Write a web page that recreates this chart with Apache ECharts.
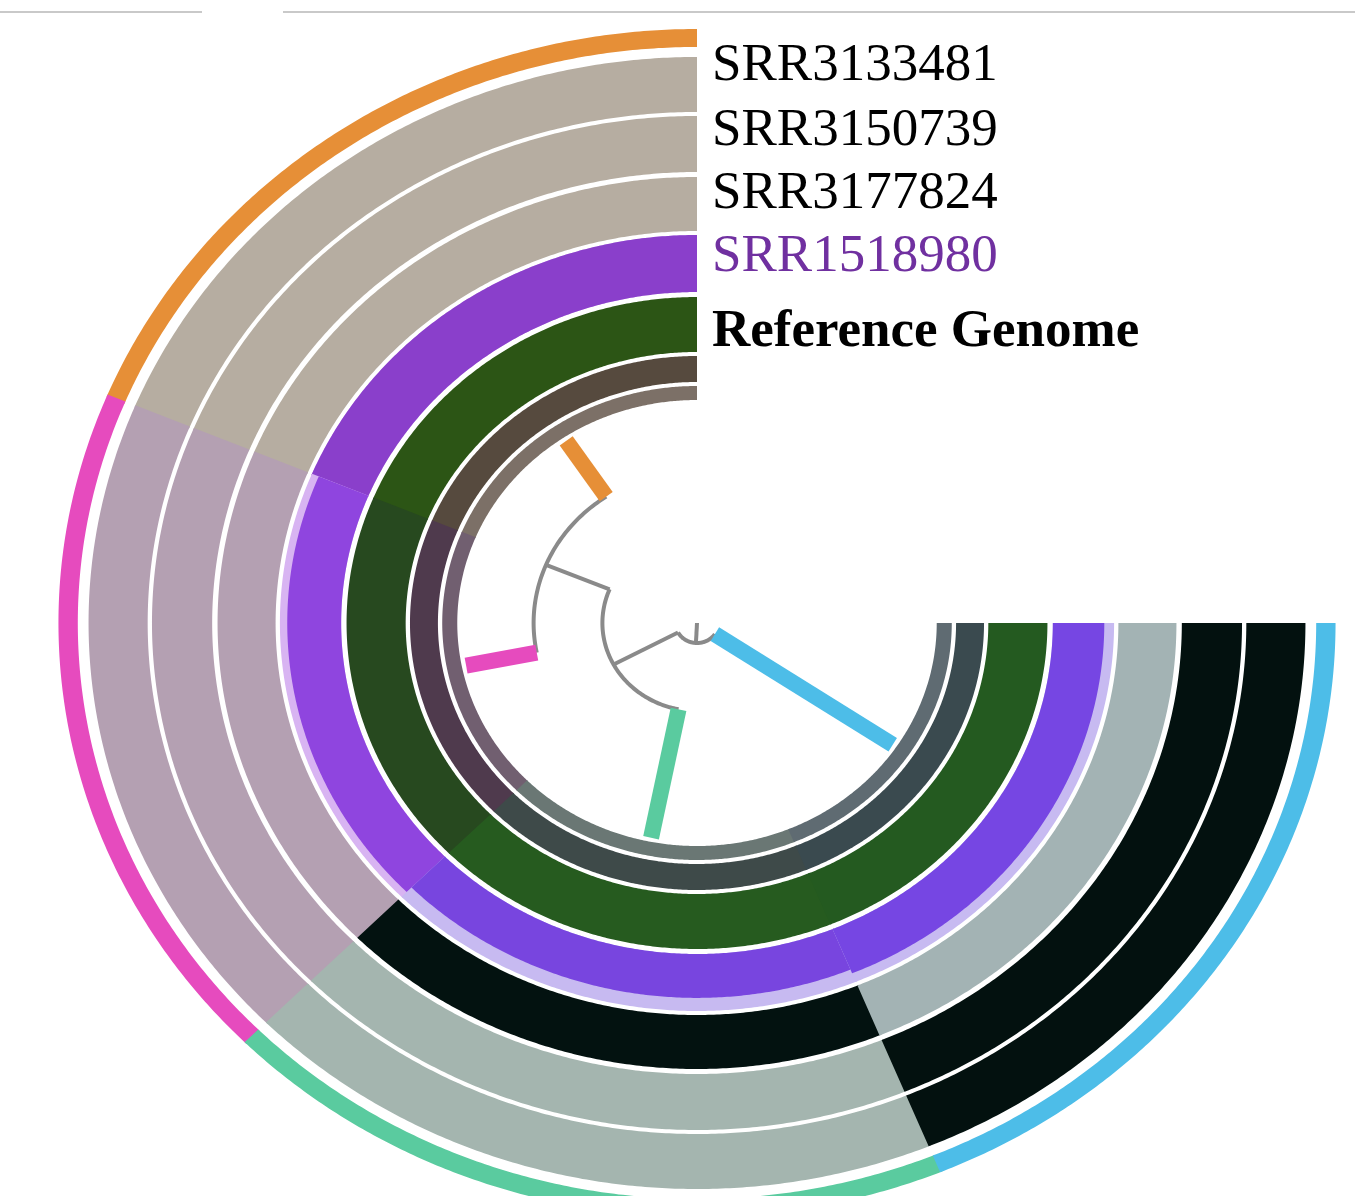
<!DOCTYPE html>
<html>
<head>
<meta charset="utf-8">
<script src="https://cdn.jsdelivr.net/npm/echarts@6/dist/echarts.min.js"></script>
<style>
  html, body { margin: 0; padding: 0; background: #ffffff; }
  #chart { width: 1355px; height: 1196px; }
</style>
</head>
<body>
<div id="chart"></div>
<script>
// Four clade sectors sweep counter-clockwise from 12 o'clock round to 3 o'clock
const cladeColors = ['#E68F37', '#E64BBE', '#5ACB9F', '#4DBDE8'];
const sweepStart = 90;
const sweepEnd = 360;

// Concentric tracks, innermost first (radius units)
const trackNames = ['', '', 'Reference Genome', 'SRR1518980', 'SRR3177824', 'SRR3150739', 'SRR3133481', 'Clade'];
const trackInner = [223, 241, 271, 331, 392, 451, 511, 576];
const trackOuter = [237, 267, 326, 388, 446, 507, 566, 594];

// Fill colour of every track in each clade sector
const trackColors = [
  ['#7C7067', '#715F70', '#6A7774', '#5F6B72'],
  ['#564A3E', '#4F3A4D', '#3E4A49', '#3A4A4F'],
  ['#2C5515', '#27491F', '#265B1F', '#245A20'],
  ['#8A3FCB', '#8F45DF', '#7845DF', '#7646E3'],
  ['#B6ADA1', '#B4A0B2', '#031210', '#A3B3B4'],
  ['#B6ADA1', '#B4A0B2', '#A4B5AF', '#03110F'],
  ['#B6ADA1', '#B4A0B2', '#A4B5AF', '#03110F'],
  cladeColors
];

// SRR1518980 coverage per clade; the uncovered remainder shows as a pale band
const coverageTrack = 3;
const coverage = [1.0, 0.88, 0.77, 0.84];
const coveragePale = ['#D4B2F0', '#D8B4F2', '#C7BAF1', '#C7BAF1'];

// Dendrogram: parent index and radial depth of every node; tips map to clades
const treeParent = [-1, 0, 1, 2, 2, 1, 0];
const treeDepth = [20, 88, 152, 219, 219, 219, 219];
const tipClade = [-1, -1, -1, 0, 1, 2, 3];

// Track legend text
const legendLabels = ['SRR3133481', 'SRR3150739', 'SRR3177824', 'SRR1518980', 'Reference Genome'];
const legendColors = ['#000000', '#000000', '#000000', '#7030A0', '#000000'];
const legendWeights = ['normal', 'normal', 'normal', 'normal', 'bold'];

const sectorSpan = (sweepEnd - sweepStart) / cladeColors.length;
const rad = Math.PI / 180;
function polarToXY(r, deg) {
  return [r * Math.cos(deg * rad), r * Math.sin(deg * rad)];
}

// Ring segments
const segData = [];
for (let t = 0; t < trackInner.length; t++) {
  for (let c = 0; c < cladeColors.length; c++) {
    const a0 = sweepStart + c * sectorSpan;
    const a1 = a0 + sectorSpan;
    if (t === coverageTrack) {
      segData.push({ value: [trackInner[t], trackOuter[t], a0, a1], itemStyle: { color: coveragePale[c] } });
      const rTop = trackInner[t] + coverage[c] * (trackOuter[t] - trackInner[t]);
      segData.push({ value: [trackInner[t], rTop, a0, a1], itemStyle: { color: trackColors[t][c] } });
    } else {
      segData.push({ value: [trackInner[t], trackOuter[t], a0, a1], itemStyle: { color: trackColors[t][c] } });
    }
  }
}

// Node angles: tips sit mid-sector, inner nodes at the mean of their children
const nodeAngle = treeParent.map(() => 0);
const children = treeParent.map(() => []);
treeParent.forEach((p, i) => { if (p >= 0) children[p].push(i); });
for (let i = treeParent.length - 1; i >= 0; i--) {
  if (tipClade[i] >= 0) {
    nodeAngle[i] = sweepStart + (tipClade[i] + 0.5) * sectorSpan;
  } else {
    const kids = children[i];
    nodeAngle[i] = kids.reduce((s, k) => s + nodeAngle[k], 0) / kids.length;
  }
}

const branchData = [];
const arcData = [];
treeParent.forEach((p, i) => {
  const from = p >= 0 ? treeDepth[p] : 0;
  const isTip = tipClade[i] >= 0;
  branchData.push({
    value: [nodeAngle[i], from, treeDepth[i], isTip ? 1 : 0],
    itemStyle: { color: isTip ? cladeColors[tipClade[i]] : '#8A8A8A' }
  });
  if (children[i].length) {
    const angs = children[i].map(k => nodeAngle[k]);
    arcData.push({ value: [treeDepth[i], Math.min(...angs), Math.max(...angs)] });
  }
});

function ringItem(params, api) {
  const r0 = api.value(0), r1 = api.value(1);
  let a0 = api.value(2), a1 = api.value(3);
  if (a0 > sweepStart) a0 -= 0.12;
  if (a1 < sweepEnd) a1 += 0.12;
  const n = Math.max(2, Math.ceil((a1 - a0) / 0.4));
  const pts = [];
  for (let k = 0; k <= n; k++) pts.push(api.coord(polarToXY(r1, a0 + (a1 - a0) * k / n)));
  for (let k = n; k >= 0; k--) pts.push(api.coord(polarToXY(r0, a0 + (a1 - a0) * k / n)));
  return { type: 'polygon', shape: { points: pts }, style: { fill: api.visual('color') } };
}

function arcItem(params, api) {
  const r = api.value(0), a0 = api.value(1), a1 = api.value(2);
  const n = Math.max(2, Math.ceil((a1 - a0) / 1));
  const pts = [];
  for (let k = 0; k <= n; k++) pts.push(api.coord(polarToXY(r, a0 + (a1 - a0) * k / n)));
  return { type: 'polyline', shape: { points: pts }, style: { stroke: '#8A8A8A', lineWidth: 4, fill: null } };
}

function branchItem(params, api) {
  const a = api.value(0), r0 = api.value(1), r1 = api.value(2);
  const tip = api.value(3) === 1;
  return {
    type: 'polyline',
    shape: { points: [api.coord(polarToXY(r0, a)), api.coord(polarToXY(r1, a))] },
    style: { stroke: api.visual('color'), lineWidth: tip ? 16 : 4, fill: null, lineCap: 'butt' },
    z2: tip ? 2 : 1
  };
}

const legendY = [66.5, 131.5, 194.5, 257.5, 332.5];
const graphics = [
  { type: 'line', shape: { x1: 0, y1: 12, x2: 202, y2: 12 }, style: { stroke: '#C9C9C9', lineWidth: 2 } },
  { type: 'line', shape: { x1: 283, y1: 12, x2: 1355, y2: 12 }, style: { stroke: '#C9C9C9', lineWidth: 2 } }
];
legendLabels.forEach((txt, i) => {
  graphics.push({
    type: 'text',
    x: 712,
    y: legendY[i],
    style: {
      text: txt,
      fill: legendColors[i],
      font: legendWeights[i] + ' 53px "Liberation Serif", "Times New Roman", serif',
      align: 'left',
      verticalAlign: 'middle'
    }
  });
});

const chart = echarts.init(document.getElementById('chart'), null, { renderer: 'canvas' });
chart.setOption({
  animation: false,
  backgroundColor: '#ffffff',
  grid: { left: 52, top: 23, width: 1290, height: 1173 },
  xAxis: { type: 'value', min: -600, max: 600, show: false },
  yAxis: { type: 'value', min: -573, max: 600, show: false },
  graphic: graphics,
  series: [
    { type: 'custom', name: 'tracks', coordinateSystem: 'cartesian2d', clip: false, renderItem: ringItem, data: segData, z: 1 },
    { type: 'custom', name: 'treeArcs', coordinateSystem: 'cartesian2d', clip: false, renderItem: arcItem, data: arcData, z: 2 },
    { type: 'custom', name: 'treeBranches', coordinateSystem: 'cartesian2d', clip: false, renderItem: branchItem, data: branchData, z: 3 }
  ]
});
</script>
</body>
</html>
